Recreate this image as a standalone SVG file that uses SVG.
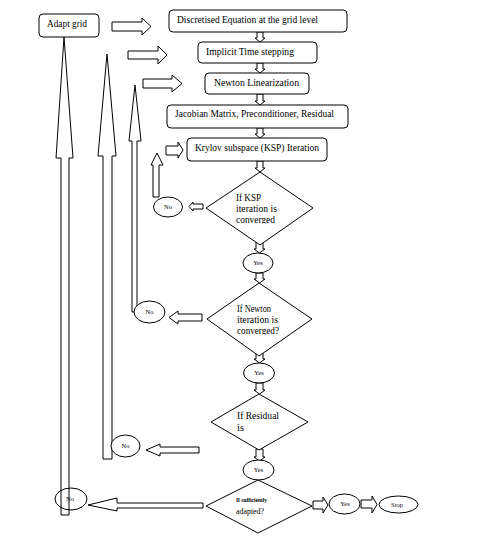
<svg xmlns="http://www.w3.org/2000/svg" width="485" height="548" viewBox="0 0 485 548">
<style>
.bg{fill:#fff}
.box{fill:#fff;stroke:#000;stroke-width:1}
.dia{fill:#fff;stroke:#000;stroke-width:1}
.ell{fill:#fff;stroke:#000;stroke-width:1}
.arr{fill:#fff;stroke:#000;stroke-width:1;stroke-linejoin:miter}
.t{font-family:"Liberation Serif","Times New Roman",serif;font-size:10.5px;fill:#000}
.s{font-family:"Liberation Serif","Times New Roman",serif;font-size:6.5px;fill:#000}
</style>
<defs>
<clipPath id="c1"><rect x="230" y="214" width="60" height="9.6"/></clipPath>
<clipPath id="c2"><rect x="230" y="325" width="60" height="9.6"/></clipPath>
</defs>
<rect class="bg" x="0" y="0" width="485" height="548"/>
<g id="connectors">
<path class="arr" d="M61,515 L61,158 L56,158 L64,37 L73,158 L69,158 L69,515 Z"/>
<path class="arr" d="M103,459 L103,156 L98,156 L107,54 L116,156 L112,156 L112,459 Z"/>
<path class="arr" d="M132,312 L132,141 L129,141 L135,85 L141,141 L137,141 L137,312 Z"/>
<path class="arr" d="M112,22 H142 V18 L151,26.5 L142,35 V31 H112 Z"/>
<path class="arr" d="M128,51 H158 V46 L167,55 L158,64 V59 H128 Z"/>
<path class="arr" d="M143,79 H172 V75 L182,83.5 L172,92 V88 H143 Z"/>
<path class="arr" d="M166,146 H178 V142 L183,150 L178,158 V155 H166 Z"/>
<path class="arr" d="M257,32 V38 H255 L260,42 L265,38 H263 V32 Z"/>
<path class="arr" d="M257,63 V69 H255 L260,73 L265,69 H263 V63 Z"/>
<path class="arr" d="M257,94 V101 H255 L260,105 L265,101 H263 V94 Z"/>
<path class="arr" d="M257,128 V134 H255 L260,138 L265,134 H263 V128 Z"/>
<path class="arr" d="M257,161 V168 H255 L260,172 L265,168 H263 V161 Z"/>
<path class="arr" d="M256,239 V249 H254 L259.5,253 L265,249 H263 V239 Z"/>
<path class="arr" d="M256,273 V279 H254 L259.5,283 L265,279 H263 V273 Z"/>
<path class="arr" d="M256,350 V359 H254 L259.5,363 L265,359 H263 V350 Z"/>
<path class="arr" d="M256,383 V390 H254 L259.5,394 L265,390 H263 V383 Z"/>
<path class="arr" d="M256,449 V457 H254 L259.5,461 L265,457 H263 V449 Z"/>
<path class="arr" d="M153,197 V165 H151 L157,153 L163,165 H159 V197 Z"/>
<path class="arr" d="M203,204 H193 V202 L189,206.5 L193,211 V209 H203 Z"/>
<path class="arr" d="M202,314 H178 V311 L169,317.5 L178,324 V321 H202 Z"/>
<path class="arr" d="M199,447 H160 V444 L146,450 L160,456 V453 H199 Z"/>
<path class="arr" d="M203,503 H117 V498 L88,505 L117,511 V508 H203 Z"/>
<path class="arr" d="M313,501 H323 V497 L328,505 L323,513 V509 H313 Z"/>
<path class="arr" d="M361,500 H372 V496 L377,504.5 L372,513 V508 H361 Z"/>
</g>
<g id="adapt">
<rect class="box" x="39" y="14" width="60" height="23" rx="4"/>
<text class="t" x="47" y="27" textLength="40" lengthAdjust="spacingAndGlyphs">Adapt grid</text>
</g>
<g id="discretised">
<rect class="box" x="169" y="10" width="178" height="22" rx="4"/>
<text class="t" x="177" y="23" textLength="141" lengthAdjust="spacingAndGlyphs">Discretised Equation at the grid level</text>
</g>
<g id="implicit">
<rect class="box" x="198" y="42" width="119" height="21" rx="4"/>
<text class="t" x="206" y="54.5" textLength="88" lengthAdjust="spacingAndGlyphs">Implicit Time stepping</text>
</g>
<g id="newton">
<rect class="box" x="205" y="73" width="104" height="21" rx="4"/>
<text class="t" x="214" y="85.5" textLength="85" lengthAdjust="spacingAndGlyphs">Newton Linearization</text>
</g>
<g id="jacobian">
<rect class="box" x="167" y="105" width="181" height="23" rx="4"/>
<text class="t" x="175" y="117" textLength="159" lengthAdjust="spacingAndGlyphs">Jacobian Matrix, Preconditioner, Residual</text>
</g>
<g id="krylov">
<rect class="box" x="187" y="138" width="140" height="23" rx="4"/>
<text class="t" x="195" y="150.5" textLength="124" lengthAdjust="spacingAndGlyphs">Krylov subspace (KSP) Iteration</text>
</g>
<g id="ksp-check">
<polygon class="dia" points="260,172 313,208 260,245 206,208"/>
<text class="t" x="236" y="201" textLength="25" lengthAdjust="spacingAndGlyphs">If KSP</text>
<text class="t" x="236" y="212" textLength="41" lengthAdjust="spacingAndGlyphs">iteration is</text>
<text class="t" x="236" y="223" textLength="39" lengthAdjust="spacingAndGlyphs" clip-path="url(#c1)">converged</text>
</g>
<g id="no1">
<ellipse class="ell" cx="168" cy="207" rx="14.5" ry="10"/>
<text class="s" x="168" y="209" text-anchor="middle">No</text>
</g>
<g id="yes1">
<ellipse class="ell" cx="258" cy="263" rx="15" ry="10"/>
<text class="s" x="258" y="265" text-anchor="middle">Yes</text>
</g>
<g id="newton-check">
<polygon class="dia" points="259,283 312,319 259,356 207,319"/>
<text class="t" x="237" y="312" textLength="34" lengthAdjust="spacingAndGlyphs">If Newton</text>
<text class="t" x="237" y="323" textLength="41" lengthAdjust="spacingAndGlyphs">iteration is</text>
<text class="t" x="237" y="334" textLength="42" lengthAdjust="spacingAndGlyphs" clip-path="url(#c2)">converged?</text>
</g>
<g id="no2">
<ellipse class="ell" cx="149.5" cy="312" rx="15.5" ry="11"/>
<text class="s" x="149.5" y="314" text-anchor="middle">No</text>
</g>
<g id="yes2">
<ellipse class="ell" cx="259" cy="373" rx="15.5" ry="10"/>
<text class="s" x="259" y="375" text-anchor="middle">Yes</text>
</g>
<g id="residual-check">
<polygon class="dia" points="259,394 308,422 259,450 211,422"/>
<text class="t" x="237" y="419" textLength="42" lengthAdjust="spacingAndGlyphs">If Residual</text>
<text class="t" x="237" y="431">is</text>
</g>
<g id="no3">
<ellipse class="ell" cx="125.5" cy="446" rx="14.5" ry="11"/>
<text class="s" x="125.5" y="448" text-anchor="middle">No</text>
</g>
<g id="yes3">
<ellipse class="ell" cx="258.5" cy="470" rx="15.5" ry="10"/>
<text class="s" x="258.5" y="472" text-anchor="middle">Yes</text>
</g>
<g id="adapted-check">
<polygon class="dia" points="258,480 312,506 258,533 206,506"/>
<text class="t" style="font-size:7px;font-weight:bold" x="236" y="502" textLength="31" lengthAdjust="spacingAndGlyphs">If sufficiently</text>
<text class="t" style="font-size:8.5px" x="236" y="514" textLength="28" lengthAdjust="spacingAndGlyphs">adapted?</text>
</g>
<g id="no4">
<ellipse class="ell" cx="71" cy="499" rx="16" ry="11" style="fill:none"/>
<text class="s" x="70" y="501" text-anchor="middle">No</text>
</g>
<g id="yes4">
<ellipse class="ell" cx="344.5" cy="504" rx="15.5" ry="10"/>
<text class="s" x="345" y="506" text-anchor="middle">Yes</text>
</g>
<g id="stop">
<ellipse class="ell" cx="398.5" cy="504.5" rx="19.5" ry="8.5"/>
<text class="s" x="397" y="506.5" text-anchor="middle">Stop</text>
</g>
</svg>
